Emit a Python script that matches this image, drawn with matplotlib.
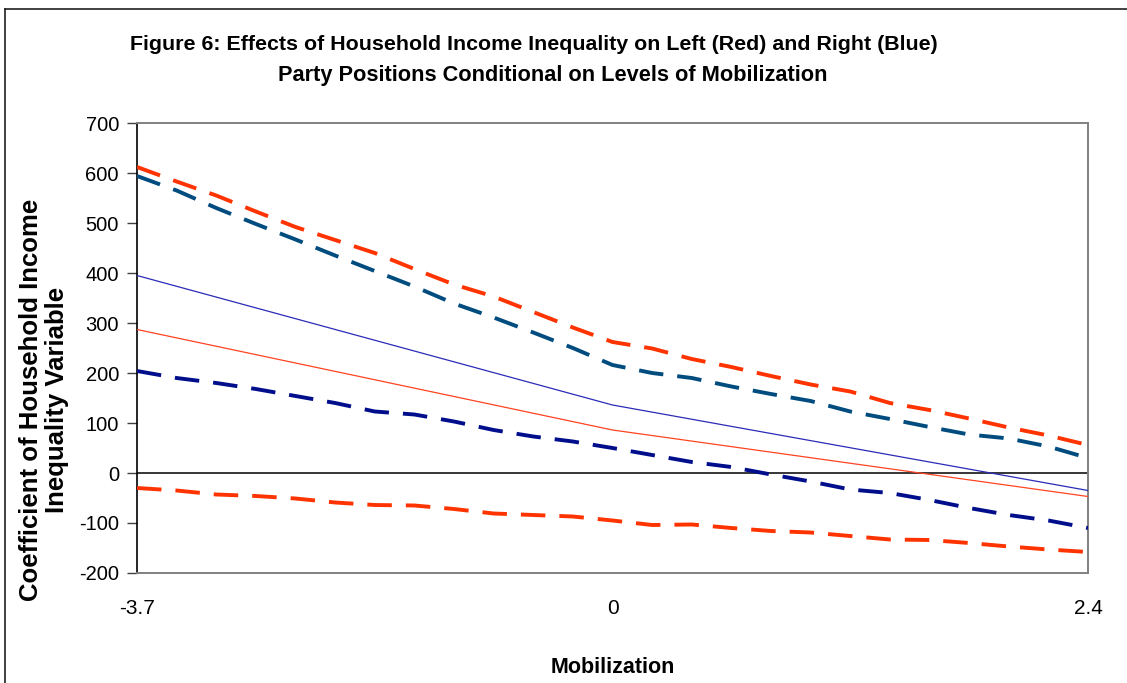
import numpy as np
import matplotlib
matplotlib.use("Agg")
import matplotlib.pyplot as plt
from matplotlib.lines import Line2D

# ---------------- data ----------------
tick_labels = ["-3.7", "0", "2.4"]          # mobilization values shown on the axis
n_steps = 25                                  # evaluation points along mobilization

# point estimates (at -3.7, 0, 2.4)
left_est = [287, 86, -47]      # red (left party)
right_est = [395, 136, -35]    # blue (right party)

# confidence bounds (25 points from -3.7 to 2.4)
left_upper = [612, 583, 555, 523, 492, 466, 440, 408, 377, 353, 322, 291, 262,
              249, 228, 212, 194, 177, 163, 140, 126, 109, 91, 75, 56]
left_lower = [-30, -35, -43, -46, -51, -59, -64, -65, -72, -81, -84, -87, -95,
              -104, -103, -110, -116, -119, -126, -133, -134, -140, -147, -153, -158]
right_upper = [594, 565, 530, 498, 467, 435, 404, 373, 339, 311, 281, 250, 216,
               200, 190, 173, 158, 144, 123, 108, 92, 77, 69, 53, 30]
right_lower = [204, 190, 180, 168, 154, 140, 123, 117, 103, 86, 73, 63, 50,
               36, 22, 12, -3, -17, -33, -40, -54, -70, -84, -95, -110]

yticks = [-200, -100, 0, 100, 200, 300, 400, 500, 600, 700]

# ---------------- figure ----------------
plt.rcParams['font.family'] = ['Liberation Sans', 'DejaVu Sans']
fig = plt.figure(figsize=(11.27, 6.83), dpi=100)
W, H = 1127, 683
ax = fig.add_axes([137 / W, 1 - 573 / H, (1088 - 137) / W, (573 - 123) / H])

x = np.arange(n_steps)
x_est = [0, n_steps // 2, n_steps - 1]

dash = (0, (6.3, 3.6))
ax.plot(x, left_upper, color='#FF3300', lw=2.8, linestyle=dash, dash_capstyle='butt', zorder=3)
ax.plot(x, right_upper, color='#004C7F', lw=2.8, linestyle=dash, dash_capstyle='butt', zorder=3)
ax.plot(x, right_lower, color='#000E8C', lw=2.8, linestyle=dash, dash_capstyle='butt', zorder=3)
ax.plot(x, left_lower, color='#FF3300', lw=2.8, linestyle=dash, dash_capstyle='butt', zorder=3)
ax.plot(x_est, right_est, color='#2B2BB8', lw=0.9, zorder=3)
ax.plot(x_est, left_est, color='#FF4422', lw=0.9, zorder=3)

ax.axhline(0, color='black', lw=1.1, zorder=2)

ax.set_xlim(0, n_steps - 1)
ax.set_ylim(-200, 700)
ax.set_yticks(yticks)
ax.set_yticklabels([str(v) for v in yticks])
ax.set_xticks(x_est)
ax.set_xticklabels(tick_labels)

ax.tick_params(axis='y', direction='out', length=7, width=1, color='#404040',
               labelsize=14.5, pad=6)
ax.tick_params(axis='x', length=0, labelsize=15, pad=19)

for side in ['top', 'right', 'bottom']:
    ax.spines[side].set_color('#808080')
    ax.spines[side].set_linewidth(1.4)
ax.spines['left'].set_color('black')
ax.spines['left'].set_linewidth(1.2)

ax.set_xlabel("Mobilization", fontsize=15.5, fontweight='bold', labelpad=28)

fig.text(44 / W, 1 - 400 / H, "Coefficient of Household Income\nInequality Variable",
         rotation=90, ha='center', va='center', fontsize=18.5, fontweight='bold',
         multialignment='center', linespacing=1.15)

fig.text(534 / W, 1 - 45 / H,
         "Figure 6: Effects of Household Income Inequality on Left (Red) and Right (Blue)",
         ha='center', va='center', fontsize=15.4, fontweight='bold')
fig.text(553 / W, 1 - 75 / H,
         "Party Positions Conditional on Levels of Mobilization",
         ha='center', va='center', fontsize=15.7, fontweight='bold')

# outer chart frame
fig.add_artist(Line2D([5 / W, 5 / W], [0, 1 - 9 / H], transform=fig.transFigure,
                      color='#202020', lw=1.2))
fig.add_artist(Line2D([5 / W, 1], [1 - 9 / H, 1 - 9 / H], transform=fig.transFigure,
                      color='#202020', lw=1.2))

fig.savefig("out.png", dpi=100)
